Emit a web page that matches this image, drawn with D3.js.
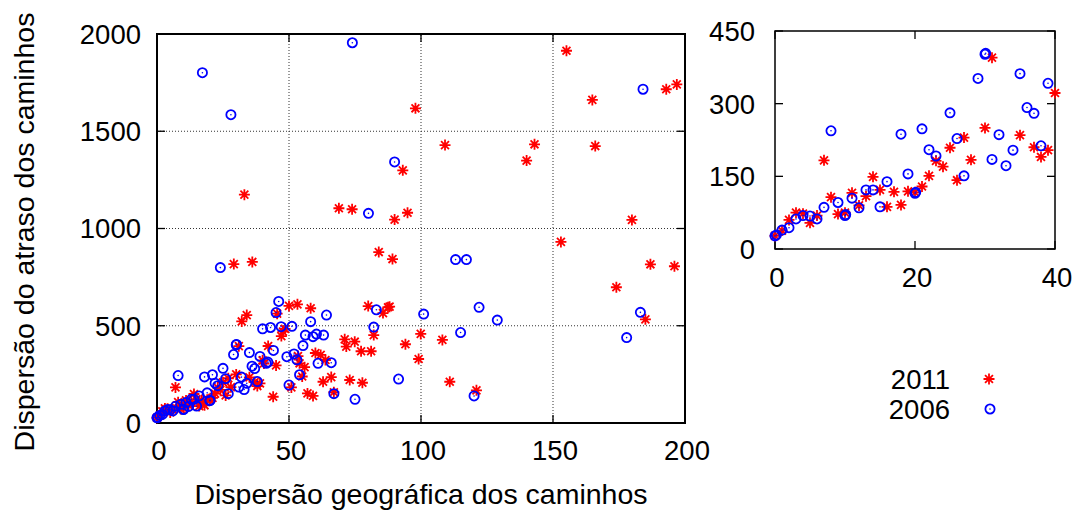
<!DOCTYPE html>
<html><head><meta charset="utf-8">
<script src="https://cdn.jsdelivr.net/npm/d3@7"></script>
<style>
html,body{margin:0;padding:0;background:#fff;}
text{font-family:"Liberation Sans",Arial,Helvetica,sans-serif;fill:#000;}
</style></head>
<body><svg id="c" width="1079" height="513"></svg>
<script>
const seriesNames = ["2011", "2006"];
const mainXTicks = [0, 50, 100, 150, 200];
const mainYTicks = [0, 500, 1000, 1500, 2000];
const insetXTicks = [0, 20, 40];
const insetYTicks = [0, 150, 300, 450];
const xTitle = "Dispersão geográfica dos caminhos";
const yTitle = "Dispersão do atraso dos caminhos";

// 2011 (red stars): [geographic dispersion, delay dispersion]
const data2011 = [
 [0,27],[1,38],[2,60],[3,75],[4,73],[5,54],[6,69],[7,183],[8,107],[9,72],[10,75],[11,116],[12,90],[13,109],[14,149],[15,122],[16,87],[17,118],[18,91],[19,119],[20,117],[21,129],[22,151],[23,182],[24,170],[25,209],[26,142],[27,230],[28,184],[30,250],[31,395],[35,235],[37,210],[38,190],[39,204],[40,322],
 [33.1,1174],[29.1,817],[36.1,828],[32.1,522],[34,555],[45.5,562],[50,602],[53.2,610],[58.2,590],[48.5,484],[47.7,470],[47.1,447],[42.1,396],[40.5,306],[45.1,296],[53.4,344],[54,307],[55.9,287],[60,360],[62,350],[63.8,324],[55,239],[66,236],[62.9,212],[50.9,183],[44,135],[57,152],[59.1,139],[67,158],
 [71.1,430],[74.9,418],[71.7,393],[77.3,369],[81.1,369],[73,221],[77.8,207],[80,601],[85.6,565],[87.5,595],[88.1,598],[82.1,452],[94.1,405],[99.9,458],[99.1,329],[108.1,427],[110.9,212],[121,168],
 [84,879],[89.2,843],[90,1046],[94.9,1081],[68.9,1104],[73.9,1099],[93.1,1299],[97.9,1618],[109.1,1429],[140,1349],[143,1433],[155.1,1914],[164.9,1661],[166,1424],[192.9,1716],[196.9,1741],[179.9,1044],[153,931],[186.9,816],[196,806],[174,698],[185,533]
];

// 2006 (blue circles)
const data2006 = [
 [0,27],[0.2,29],[1,39],[2,44],[3,62],[4,69],[5,68],[6,62],[7,86],[8,244],[9,96],[10,69],[10.1,71],[11,105],[12,85],[13,122],[14,122],[15,87],[16,139],[18,237],[19,155],[20,115],[20.1,117],[21,248],[22,205],[23,192],[25,281],[26,228],[27,151],[29,352],[30,402],[30.1,404],[31,185],[32,236],[33,172],[34,204],[35,362],[36,292],[37,280],[38,213],[39,342],
 [17.2,1801],[28,1585],[74,1955],[90,1342],[80.1,1078],[184.1,1716],[24,799],[113.1,840],[117.2,840],[122,595],[128.9,529],[101,560],[115,465],[183.1,569],[177.9,439],[120.1,139],[91.5,226],[75,122],
 [46.1,625],[45.1,568],[58.2,521],[64.2,555],[40,484],[43,491],[47,495],[51.1,497],[56.2,452],[59.1,444],[60.4,457],[63.1,452],[55.3,398],[44.1,373],[41.4,307],[42,313],[49.2,341],[51.9,355],[53,325],[61,307],[66,310],[54,248],[50,195],[67,151],[83.1,582],[82.1,493]
];

const svg = d3.select("#c");
const FS = 27.5;
const RED = "#ff0000", BLUE = "#0000ff";
const STAR = 5.5, CR = 4.6, SW = 1.8;

function starPath(s){
  const a = s*0.72;
  return `M${-s},0H${s}M0,${-s}V${s}M${-a},${-a}L${a},${a}M${-a},${a}L${a},${-a}`;
}

function drawPoints(g, x, y, filt){
  const r = data2011.filter(filt);
  const b = data2006.filter(filt);
  g.selectAll("path.s11").data(r).join("path").attr("class","s11")
    .attr("d", starPath(STAR))
    .attr("transform", d => `translate(${x(d[0])},${y(d[1])})`)
    .attr("stroke", RED).attr("stroke-width", SW).attr("fill","none");
  const cg = g.selectAll("g.s06").data(b).join("g").attr("class","s06")
    .attr("transform", d => `translate(${x(d[0])},${y(d[1])})`);
  cg.append("circle").attr("r", CR).attr("fill","none").attr("stroke", BLUE).attr("stroke-width", SW);
  cg.append("circle").attr("r", 0.8).attr("fill", BLUE);
}

function frameAndTicks(g, x, y, xt, yt, len, sw, grid){
  const [x0,x1] = x.range(), [y0,y1] = y.range();
  if (grid){
    g.selectAll("line.gx").data(xt.filter(v => x(v)>x0+1 && x(v)<x1-1)).join("line").attr("class","gx")
      .attr("x1", d=>x(d)).attr("x2", d=>x(d)).attr("y1", y0).attr("y2", y1)
      .attr("stroke","#333").attr("stroke-width",1).attr("stroke-dasharray","1,2");
    g.selectAll("line.gy").data(yt.filter(v => y(v)<y0-1 && y(v)>y1+1)).join("line").attr("class","gy")
      .attr("y1", d=>y(d)).attr("y2", d=>y(d)).attr("x1", x0).attr("x2", x1)
      .attr("stroke","#333").attr("stroke-width",1).attr("stroke-dasharray","1,2");
  }
  const t = g.append("g").attr("stroke","#000").attr("stroke-width",1.3);
  xt.forEach(v => {
    t.append("line").attr("x1",x(v)).attr("x2",x(v)).attr("y1",y0).attr("y2",y0-len);
    t.append("line").attr("x1",x(v)).attr("x2",x(v)).attr("y1",y1).attr("y2",y1+len);
  });
  yt.forEach(v => {
    t.append("line").attr("y1",y(v)).attr("y2",y(v)).attr("x1",x0).attr("x2",x0+len);
    t.append("line").attr("y1",y(v)).attr("y2",y(v)).attr("x1",x1).attr("x2",x1-len);
  });
  g.append("rect").attr("x",x0).attr("y",y1).attr("width",x1-x0).attr("height",y0-y1)
    .attr("fill","none").attr("stroke","#000").attr("stroke-width",sw);
}

function tickLabels(g, x, y, xt, yt, xBase, yRight){
  g.selectAll("text.xl").data(xt).join("text").attr("class","xl")
    .attr("x", d=>x(d)+2).attr("y", xBase).attr("text-anchor","middle").attr("font-size",FS).text(d=>d);
  g.selectAll("text.yl").data(yt).join("text").attr("class","yl")
    .attr("x", yRight).attr("y", d=>y(d)).attr("dy","0.36em").attr("text-anchor","end").attr("font-size",FS).text(d=>d);
}

// main chart
const xm = d3.scaleLinear().domain([0,200]).range([157,685]);
const ym = d3.scaleLinear().domain([0,2000]).range([423,34]);
const gm = svg.append("g");
frameAndTicks(gm, xm, ym, mainXTicks, mainYTicks, 8, 2, true);
drawPoints(gm.append("g"), xm, ym, d => true);
tickLabels(gm, xm, ym, mainXTicks, mainYTicks, 460, 141);

svg.append("text").attr("x", 421).attr("y", 504).attr("text-anchor","middle").attr("font-size",28.5).text(xTitle);
svg.append("text").attr("transform","translate(34,232) rotate(-90)").attr("text-anchor","middle").attr("font-size",28.5).text(yTitle);

// inset
const xi = d3.scaleLinear().domain([0,40]).range([775,1055]);
const yi = d3.scaleLinear().domain([0,450]).range([249,31]);
const gi = svg.append("g");
frameAndTicks(gi, xi, yi, insetXTicks, insetYTicks, 8, 1.5, false);
drawPoints(gi.append("g"), xi, yi, d => d[0] >= -0.05 && d[0] <= 40.05 && d[1] >= 0 && d[1] <= 450);
tickLabels(gi, xi, yi, insetXTicks, insetYTicks, 287, 755);

// legend
const lg = svg.append("g");
const legY = [379, 409];
seriesNames.forEach((n,i) => {
  lg.append("text").attr("x", 950).attr("y", legY[i]).attr("dy","0.36em").attr("text-anchor","end").attr("font-size",FS).text(n);
});
lg.append("path").attr("d", starPath(STAR)).attr("transform",`translate(989,${legY[0]})`).attr("stroke",RED).attr("stroke-width",SW).attr("fill","none");
const lc = lg.append("g").attr("transform",`translate(990,${legY[1]})`);
lc.append("circle").attr("r",CR).attr("fill","none").attr("stroke",BLUE).attr("stroke-width",SW);
lc.append("circle").attr("r",0.8).attr("fill",BLUE);
</script></body></html>
